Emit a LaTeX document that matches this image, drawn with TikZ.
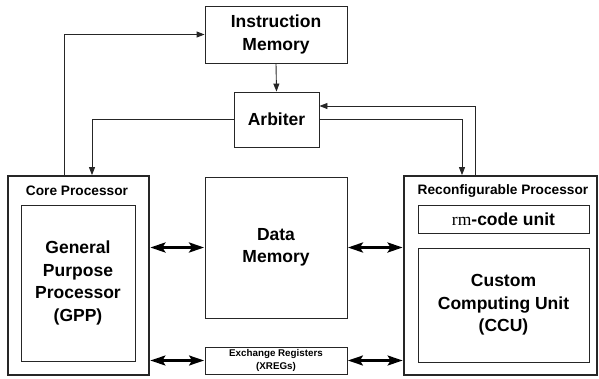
\documentclass[tikz,border=0pt]{standalone}
\usepackage{fontspec}
\setmainfont{Liberation Sans}
\newfontfamily\serifrm{Liberation Serif}
\usetikzlibrary{arrows.meta,positioning}
\tikzset{
  blk/.style={draw=black!85, line width=0.9pt, align=center, inner sep=0pt, font=\bfseries\fontsize{17.5}{22.5}\selectfont},
  outer/.style={draw=black!85, line width=1.8pt, inner sep=0pt},
  conn/.style={draw=black!85, line width=0.9pt, -{Triangle[length=8pt,width=6pt]}},
  bidi/.style={draw=black, line width=2.8pt, {Stealth[length=15pt,width=10pt,inset=3pt]}-{Stealth[length=15pt,width=10pt,inset=3pt]}, shorten <=0.5pt, shorten >=0.5pt},
  bidismall/.style={bidi, line width=2.2pt},
  lbl/.style={font=\bfseries\fontsize{13.7}{16}\selectfont, inner sep=0pt}
}
\begin{document}
\begin{tikzpicture}[x=1pt,y=-1pt]
\useasboundingbox (0,0) rectangle (599,378);
\node[blk, minimum width=142, minimum height=57] (im) at (276,34.5) {Instruction\\Memory};
\node[blk, minimum width=85, minimum height=55] (arb) at (276.5,119.5) {Arbiter};
\node[outer, minimum width=141, minimum height=199] (core) at (78.5,275.5) {};
\node[lbl, anchor=center] (corelbl) at (77,191) {Core Processor};
\node[blk, minimum width=114, minimum height=156] (gpp) at (78,283) {General\\Purpose\\Processor\\(GPP)};
\node[blk, minimum width=142, minimum height=141] (dm) at (276,247.5) {Data\\Memory};
\node[blk, minimum width=142, minimum height=27, font=\bfseries\fontsize{9.8}{12.5}\selectfont] (xr) at (276,360.5) {Exchange Registers\\(XREGs)};
\node[outer, minimum width=193, minimum height=199] (rp) at (500.5,275.5) {};
\node[lbl, anchor=center] (rplbl) at (503,191) {Reconfigurable Processor};
\node[blk, minimum width=171, minimum height=28] (rm) at (503.5,219) {{\mdseries\serifrm rm}-code unit};
\node[blk, minimum width=171, minimum height=114] (ccu) at (503.5,305) {Custom\\Computing Unit\\(CCU)};
% connectors
\draw[conn] (im.south) -- (arb.north);
\draw[conn] ([xshift=-14.5pt]core.north) |- (im.west);
\draw[conn] (arb.west) -| ([xshift=13.5pt]core.north);
\draw[conn] (arb.east) -| ([xshift=-38.5pt]rp.north);
\draw[conn] ([xshift=-25.5pt]rp.north) |- ([yshift=13.5pt]arb.east);
\draw[bidi] (core.east |- dm.west) -- (dm.west);
\draw[bidi] (dm.east) -- (rp.west |- dm.east);
\draw[bidismall] (core.east |- xr.west) -- (xr.west);
\draw[bidismall] (xr.east) -- (rp.west |- xr.east);
\end{tikzpicture}
\end{document}
